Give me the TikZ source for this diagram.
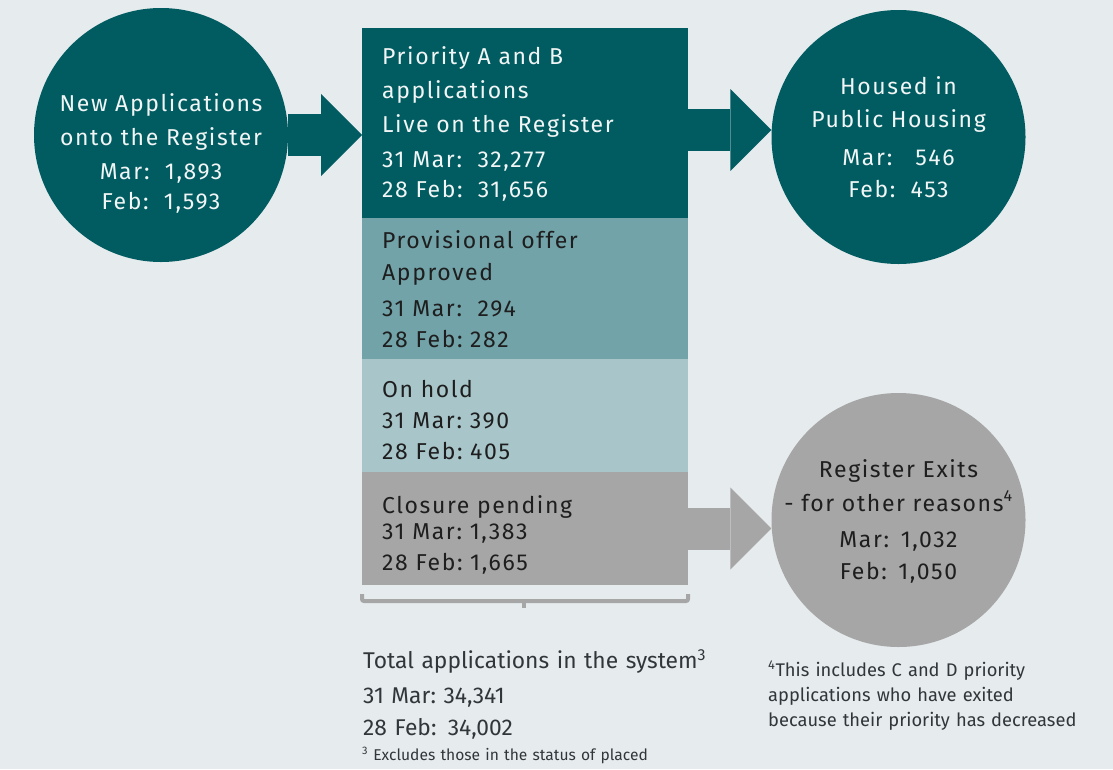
\documentclass[tikz,border=0pt]{standalone}
\usepackage{fontspec}
\setmainfont{Fira Sans}
\newfontfamily\spaced{Fira Sans}[LetterSpace=7]
\usetikzlibrary{positioning, arrows.meta}
\definecolor{bg}{HTML}{E6EBEE}
\definecolor{tealdark}{HTML}{005C61}
\definecolor{tealmid}{HTML}{71A3A9}
\definecolor{teallight}{HTML}{A8C6CA}
\definecolor{greybox}{HTML}{A6A6A6}
\definecolor{paper}{HTML}{F2F5F5}
\definecolor{ink}{HTML}{1E1E1E}
\definecolor{note}{HTML}{30363A}
\tikzset{
x=1pt, y=-1pt, % one unit is one pixel of the layout, y runs down
bubble/.style={circle, minimum size=254pt, inner sep=0pt}, % the round stations
stage/.style={rectangle, minimum width=326pt, inner sep=0pt, outer sep=0pt}, % the stacked status boxes
txt/.style={anchor=base west, inner sep=0pt, text width=300pt, align=left, font=\spaced\fontsize{23}{34}\selectfont}, % left set text
ctxt/.style={anchor=base, inner sep=0pt, text width=250pt, align=center, font=\spaced\fontsize{23}{34}\selectfont}, % centred text
fnote/.style={anchor=base west, inner sep=0pt, text width=330pt, align=left, text=note}, % footnotes
fat/.style={line width=42pt, -{Triangle[length=41pt, width=82pt, line width=0pt]}}, % the broad flow arrows
}
\begin{document}
\begin{tikzpicture}
    \useasboundingbox (0,0) rectangle (1113,769);
    \fill[bg] (0,0) rectangle (1113,769);
    % stations and status boxes
    \node[bubble, fill=tealdark] (newapp) at (161,135) {};
    \node[stage, fill=tealdark, minimum height=190pt, anchor=north west] (live) at (362,28) {};
    \node[stage, fill=tealmid, minimum height=141pt, below=0pt of live] (offer) {};
    \node[stage, fill=teallight, minimum height=113pt, below=0pt of offer] (hold) {};
    \node[stage, fill=greybox, minimum height=113pt, below=0pt of hold] (closure) {};
    \node[bubble, fill=tealdark] (housed) at (898.5,137) {};
    \node[bubble, fill=greybox] (exits) at (898.5,520) {};
    % flows
    \draw[fat, tealdark] (newapp.east) -- (newapp.east -| live.west);
    \draw[fat, tealdark] ([yshift=-7pt]live.east) -- ([yshift=-7pt]live.east -| housed.west);
    \draw[fat, greybox] (closure.east) -- (closure.east -| exits.west);
    % bracket under the stack
    \draw[greybox, line width=4pt, rounded corners=2pt]
    ([yshift=-9pt]closure.south west) -- ([yshift=-16pt]closure.south west)
    -- ([yshift=-16pt]closure.south east) -- ([yshift=-9pt]closure.south east);
    \draw[greybox, line width=4pt] ([xshift=-1pt, yshift=-16pt]closure.south) -- ([xshift=-1pt, yshift=-23pt]closure.south);
    % texts
    \node[ctxt, text=paper] (newapp-t) at (161,111)
    {New Applications\\onto the Register\\Mar:\ \ 1,893\\[-4pt]Feb:\ \ 1,593};
    \node[txt, text=paper] (live-t) at (382,64)
    {Priority A and B\\applications\\Live on the Register\\[1pt]31 Mar:\ \ 32,277\\[-4pt]28 Feb:\ \ 31,656};
    \node[txt, text=ink, font=\spaced\fontsize{23}{32}\selectfont] (offer-t) at (382,248)
    {Provisional offer\\Approved\\[4pt]31 Mar:\ \ 294\\[-1pt]28 Feb:\ 282};
    \node[txt, text=ink, font=\spaced\fontsize{23}{31}\selectfont] (hold-t) at (382,397)
    {On hold\\31 Mar:\ 390\\28 Feb:\ 405};
    \node[txt, text=ink, font=\spaced\fontsize{23}{31}\selectfont] (closure-t) at (382,513)
    {Closure pending\\[-5pt]31 Mar:\ 1,383\\28 Feb:\ 1,665};
    \node[ctxt, text=paper, font=\spaced\fontsize{23}{33}\selectfont] (housed-t) at (898.5,94)
    {Housed in\\Public Housing\\[5pt]Mar:\ \ \ 546\\[-1pt]Feb:\ \ 453};
    \node[ctxt, text=ink] (exits-t) at (898.5,477)
    {Register Exits\\- for other reasons\textsuperscript{4}\\[2pt]Mar: 1,032\\[-2pt]Feb: 1,050};
    \node[fnote, text width=420pt, font=\fontsize{22.8}{35}\selectfont] (total-t) at (363,668)
    {Total applications in the system\textsuperscript{3}\\31 Mar:\ 34,341\\[-3pt]28 Feb: 34,002};
    \node[fnote, font=\fontsize{15.6}{18}\selectfont] (total-n) at (362,760)
    {\textsuperscript{3} Excludes those in the status of placed};
    \node[fnote, font=\fontsize{18.3}{25}\selectfont] (exits-n) at (768,676)
    {\textsuperscript{4}This includes C and D priority\\applications who have exited\\because their priority has decreased};
\end{tikzpicture}
\end{document}
